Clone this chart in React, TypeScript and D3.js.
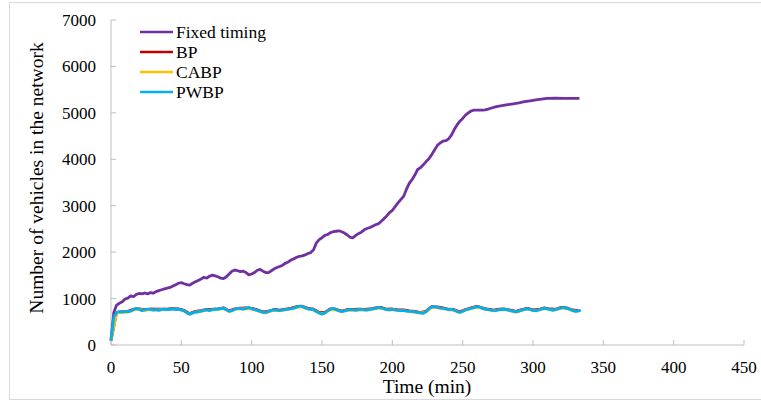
import React from "react";
import * as d3 from "d3";

// ---------- data ----------
const xTicks = [0, 50, 100, 150, 200, 250, 300, 350, 400, 450];
const yTicks = [0, 1000, 2000, 3000, 4000, 5000, 6000, 7000];
const seriesNames = ["Fixed timing", "BP", "CABP", "PWBP"];
const seriesColors = ["#7030a0", "#c00000", "#ffc000", "#00b0f0"];

const fixedTimes = [
  0, 2, 4, 6, 8, 10, 12, 14, 16, 18, 20, 22, 24, 26, 28, 30, 32, 34, 36, 38, 40, 42, 44, 46, 48, 50,
  52, 54, 56, 58, 60, 62, 64, 66, 68, 70, 72, 74, 76, 78, 80, 82, 84, 86, 88, 90, 92, 94, 96, 98, 100,
  102, 104, 106, 108, 110, 112, 114, 116, 118, 120, 122, 124, 126, 128, 130, 132, 134, 136, 138, 140,
  142, 144, 146, 148, 150, 152, 154, 156, 158, 160, 162, 164, 166, 168, 170, 172, 174, 176, 178, 180,
  182, 184, 186, 188, 190, 192, 194, 196, 198, 200, 202, 204, 206, 208, 210, 212, 214, 216, 218, 220,
  222, 224, 226, 228, 230, 232, 234, 236, 238, 240, 242, 244, 246, 248, 250, 252, 254, 256, 258, 260,
  262, 264, 266, 268, 270, 272, 274, 278, 282, 286, 290, 294, 298, 302, 306, 310, 316, 322, 328, 333,
];
const fixedValues = [
  100, 700, 860, 900, 930, 990, 1010, 1060, 1040, 1090, 1110, 1100, 1120, 1100, 1130, 1115, 1150, 1170, 1190, 1210, 1225, 1240, 1270, 1300, 1330, 1345,
  1320, 1300, 1290, 1330, 1360, 1390, 1420, 1460, 1440, 1480, 1505, 1490, 1470, 1440, 1430, 1470, 1530, 1590, 1615, 1600, 1580, 1590, 1560, 1510, 1530,
  1560, 1610, 1630, 1590, 1560, 1560, 1600, 1640, 1670, 1690, 1720, 1760, 1790, 1830, 1860, 1890, 1910, 1920, 1940, 1970,
  1990, 2050, 2200, 2270, 2310, 2360, 2380, 2420, 2440, 2450, 2460, 2440, 2410, 2370, 2320, 2310, 2360, 2400, 2430, 2480,
  2510, 2530, 2560, 2590, 2610, 2660, 2720, 2780, 2850, 2900, 2980, 3060, 3130, 3200, 3350, 3480, 3560, 3660, 3780, 3820,
  3880, 3950, 4010, 4100, 4200, 4300, 4350, 4390, 4400, 4440, 4520, 4640, 4740, 4820, 4880, 4950, 5000, 5040, 5060, 5060,
  5060, 5060, 5065, 5080, 5100, 5120, 5135, 5155, 5175, 5195, 5215, 5240, 5260, 5280, 5295, 5310, 5315, 5312, 5312, 5312,
];

// PWBP sampled every 2 min from 0 to 334
const pwbpValues = [
  100, 600, 700, 720, 710, 725, 715, 730, 760, 790, 770, 740, 755, 775, 765, 750, 760, 745, 765, 775,
  760, 770, 780, 765, 770, 755, 735, 690, 665, 690, 715, 710, 730, 745, 755, 740, 760, 775, 770, 785,
  790, 760, 725, 740, 770, 790, 785, 770, 790, 810, 780, 760, 745, 725, 705, 700, 720, 745, 755, 750,
  740, 755, 760, 770, 785, 795, 815, 840, 825, 800, 780, 770, 760, 720, 690, 665, 690, 735, 770, 790,
  760, 740, 720, 735, 750, 760, 755, 745, 760, 770, 755, 750, 765, 780, 790, 810, 800, 780, 760, 755,
  765, 755, 745, 740, 745, 730, 725, 720, 715, 700, 690, 680, 720, 780, 815, 825, 810, 795, 790, 780,
  760, 770, 750, 720, 705, 725, 755, 770, 790, 805, 820, 820, 790, 770, 760, 755, 740, 745, 760, 770,
  765, 755, 740, 725, 715, 730, 750, 770, 780, 765, 745, 735, 755, 775, 790, 785, 765, 745, 760, 780,
  800, 810, 790, 770, 745, 725, 730, 755,
];

// BP and CABP sampled every 4 min from 0 to 332
const bpValues = [
  100, 705, 720, 725, 770, 780, 760, 775, 770, 770, 770, 790, 780, 745, 675, 725, 740, 765, 770, 780,
  800, 735, 780, 795, 800, 790, 755, 715, 730, 765, 750, 770, 795, 825, 835, 790, 770, 700, 700, 780,
  770, 730, 760, 765, 770, 765, 775, 800, 810, 770, 775, 755, 755, 735, 725, 700, 730, 825, 820, 800,
  770, 760, 715, 765, 800, 830, 800, 770, 750, 770, 775, 750, 725, 760, 790, 755, 765, 800, 775, 770,
  810, 800, 755, 740,
];
const cabpValues = [
  100, 695, 705, 710, 755, 765, 745, 760, 750, 760, 755, 775, 765, 730, 660, 710, 725, 750, 755, 765,
  785, 720, 765, 780, 785, 775, 740, 700, 715, 750, 735, 755, 780, 810, 820, 775, 755, 685, 685, 765,
  755, 715, 745, 750, 755, 750, 760, 785, 795, 755, 760, 740, 740, 720, 710, 685, 715, 810, 805, 785,
  755, 745, 700, 750, 785, 815, 785, 755, 735, 755, 760, 735, 710, 745, 775, 740, 750, 785, 760, 755,
  795, 785, 740, 725,
];

const W = 761;
const H = 402;
const m = { left: 111, right: 744, top: 20, bottom: 345 };

export default function App() {
  const x = d3.scaleLinear().domain([0, 450]).range([m.left, m.right]);
  const y = d3.scaleLinear().domain([0, 7000]).range([m.bottom, m.top]);
  const line = d3
    .line<[number, number]>()
    .x((d) => x(d[0]))
    .y((d) => y(d[1]))
    .curve(d3.curveLinear);

  const fixedPts: [number, number][] = fixedTimes.map((t, i) => [t, fixedValues[i]]);
  const pwbpPts: [number, number][] = pwbpValues.map((v, i) => [i * 2, v]);
  const bpPts: [number, number][] = bpValues.map((v, i) => [i * 4, v]);
  const cabpPts: [number, number][] = cabpValues.map((v, i) => [i * 4, v]);
  const allSeries = [fixedPts, bpPts, cabpPts, pwbpPts];

  const font = "'Liberation Serif', 'Times New Roman', serif";
  const axisColor = "#bfbfbf";

  return (
    <svg
      width={W}
      height={H}
      style={{ position: "absolute", left: 0, top: 0, background: "#fff" }}
      fontFamily={font}
    >
      <rect x={9.5} y={2.5} width={760} height={397} fill="#fff" stroke="#d9d9d9" strokeWidth={1} />

      {/* axes */}
      <line x1={m.left} x2={m.left} y1={m.top} y2={m.bottom} stroke={axisColor} strokeWidth={1} />
      <line x1={m.left} x2={x(450)} y1={m.bottom} y2={m.bottom} stroke={axisColor} strokeWidth={1} />
      {yTicks.map((t) => (
        <g key={"y" + t}>
          <line x1={m.left} x2={m.left + 5} y1={y(t)} y2={y(t)} stroke={axisColor} />
          <text x={96} y={y(t)} dy="0.35em" textAnchor="end" fontSize={17} fill="#000">
            {t}
          </text>
        </g>
      ))}
      {xTicks.map((t) => (
        <g key={"x" + t}>
          <line x1={x(t)} x2={x(t)} y1={m.bottom} y2={m.bottom - 5} stroke={axisColor} />
          <text x={x(t)} y={373} textAnchor="middle" fontSize={17} fill="#000">
            {t}
          </text>
        </g>
      ))}

      {/* titles */}
      <text x={427} y={393} textAnchor="middle" fontSize={19.5} fill="#000">
        Time (min)
      </text>
      <text
        transform={`translate(43,178) rotate(-90)`}
        textAnchor="middle"
        fontSize={19.5}
        fill="#000"
      >
        Number of vehicles in the network
      </text>

      {/* series */}
      {allSeries.map((pts, i) => (
        <path
          key={seriesNames[i]}
          d={line(pts) || ""}
          fill="none"
          stroke={seriesColors[i]}
          strokeWidth={i === 0 ? 2.8 : 2.8}
          strokeLinejoin="round"
        />
      ))}

      {/* legend */}
      {seriesNames.map((name, i) => (
        <g key={"lg" + name} transform={`translate(140,${32 + i * 20})`}>
          <line x1={0} x2={33} y1={0} y2={0} stroke={seriesColors[i]} strokeWidth={2.5} />
          <text x={36} y={0} dy="0.35em" fontSize={17.5} fill="#000">
            {name}
          </text>
        </g>
      ))}
    </svg>
  );
}
